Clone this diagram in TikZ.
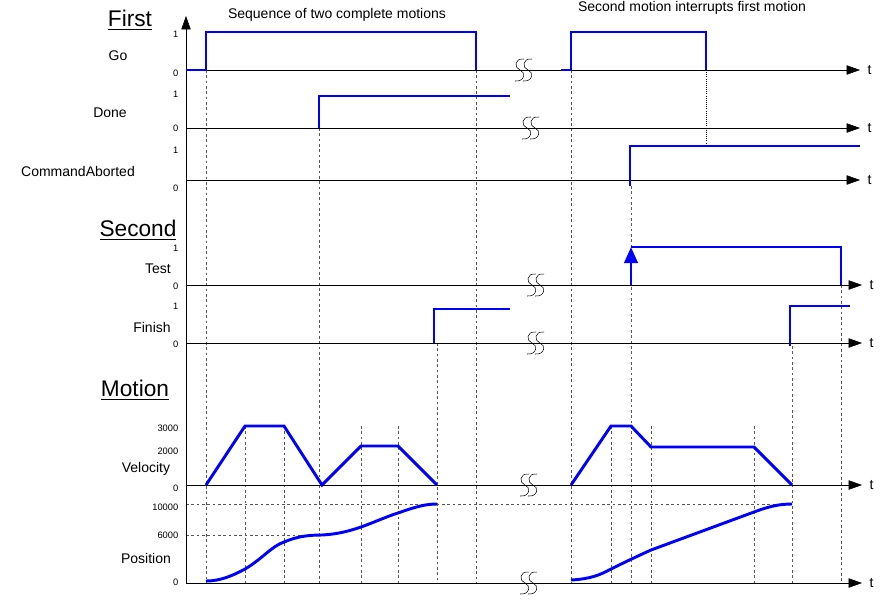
\documentclass[tikz,border=0pt]{standalone}
\usepackage{fontspec}
\setmainfont{Liberation Sans}
\usetikzlibrary{arrows.meta}

\tikzset{
    sig/.style={blue, line width=2.2pt},
    taxis/.style={-{Triangle[length=10pt,width=7pt]}},
    guide/.style={gray!70!black, dashed, dash pattern=on 2pt off 2pt, line width=0.4pt},
    lbl/.style={font=\fontsize{10.5}{12}\selectfont, anchor=center},
    tick/.style={font=\fontsize{7}{8}\selectfont, anchor=east},
    head/.style={font=\fontsize{17}{19}\selectfont},
    brk/.pic={
        \foreach \dx in {0,8}{
            \draw[line width=0.4pt] (\dx+4,-11) .. controls (\dx-6,-12) and (\dx-6,-2) .. (\dx,0)
                .. controls (\dx+6,2) and (\dx+5,12) .. (\dx-5,11);
        }
    },
}

\begin{document}
\begin{tikzpicture}[x=0.75pt, y=-0.75pt]
    \useasboundingbox (0,0) rectangle (887,601);

    % guide lines
    \draw[guide] (206,70) -- (206,583);
    \draw[guide] (319,128) -- (319,583);
    \draw[guide] (437,343) -- (437,583);
    \draw[guide] (476,70) -- (476,583);
    \draw[guide] (571,70) -- (571,583);
    \draw[guide] (631,186) -- (631,583);
    \draw[guide] (792,346) -- (792,583);
    \draw[guide] (841,285) -- (841,583);
    \foreach \gx in {245,284,361,398,611,651,754}
        \draw[guide] (\gx,426) -- (\gx,583);
    \draw[guide] (186,504) -- (792,504);
    \draw[guide] (186,535) -- (322,535);
    \draw[densely dotted, line width=0.6pt] (706,70) -- (706,146);

    % axes
    \draw[-{Triangle[length=10pt,width=7pt]}] (186,583) -- (186,16);
    \foreach \ay/\tip in {70/860,128/860,180/860,285/862,343/862,485/862,583/862}{
        \draw[taxis] (186,\ay) -- (\tip,\ay);
        \node[lbl, anchor=west] (t\ay) at (\tip+3,\ay) {t};
    }

    % breaks
    \pic at (520,70) {brk};
    \pic at (527,128) {brk};
    \pic at (532,285) {brk};
    \pic at (532,343) {brk};
    \pic at (525,485) {brk};
    \pic at (525,583) {brk};

    % headings
    \node[head] (first) at (130,20) {\underline{First}};
    \node[head] (second) at (138,230) {\underline{Second}};
    \node[head] (motion) at (135,390) {\underline{Motion}};
    \node[lbl] (seq) at (337,15) {Sequence of two complete motions};
    \node[lbl] (intr) at (692,8) {Second motion interrupts first motion};

    % signal names
    \node[lbl] (go) at (118,56) {Go};
    \node[lbl] (done) at (110,113) {Done};
    \node[lbl] (abort) at (78,171) {CommandAborted};
    \node[lbl] (test) at (158,269) {Test};
    \node[lbl] (finish) at (152,327) {Finish};
    \node[lbl] (vel) at (146,469) {Velocity};
    \node[lbl] (pos) at (146,558) {Position};

    % tick values
    \foreach \ty/\tv [count=\i] in {34/1,73/0,94/1,128/0,150/1,188/0,248/1,286/0,306/1,344/0,
                                    428/3000,451/2000,488/0,507/10000,535/6000,582/0}
        \node[tick] (v\i) at (183,\ty) {\tv};

    % signals
    \draw[sig] (186,70) -- (206,70) -- (206,32) -- (476,32) -- (476,70);
    \draw[sig] (561,70) -- (571,70) -- (571,32) -- (706,32) -- (706,70);
    \draw[sig] (319,128) -- (319,96) -- (510,96);
    \draw[sig] (630,186) -- (630,146) -- (860,146);
    \draw[sig, -{Triangle[length=12pt,width=10pt]}] (631,285) -- (631,247);
    \draw[sig] (631,247) -- (841,247) -- (841,285);
    \draw[sig] (434,343) -- (434,309) -- (510,309);
    \draw[sig] (790,346) -- (790,306) -- (850,306);

    % velocity profiles
    \draw[sig] (206,485) -- (245,426) -- (284,426) -- (322,485) -- (361,446) -- (398,446) -- (437,485);
    \draw[sig] (571,485) -- (611,426) -- (631,426) -- (651,447) -- (754,447) -- (792,485);

    % position profiles
    \draw[sig] (206,581) .. controls (220,581) and (232,576) .. (245,569)
        .. controls (262,559) and (272,546) .. (284,542)
        .. controls (298,536) and (310,535) .. (322,535)
        .. controls (340,534) and (352,530) .. (361,527)
        .. controls (375,522) and (388,516) .. (398,513)
        .. controls (415,507) and (425,504) .. (437,504);
    \draw[sig] (571,580) .. controls (590,579) and (600,575) .. (611,569)
        .. controls (625,562) and (640,555) .. (651,550)
        -- (754,512)
        .. controls (770,506) and (780,504) .. (792,504);
\end{tikzpicture}
\end{document}
